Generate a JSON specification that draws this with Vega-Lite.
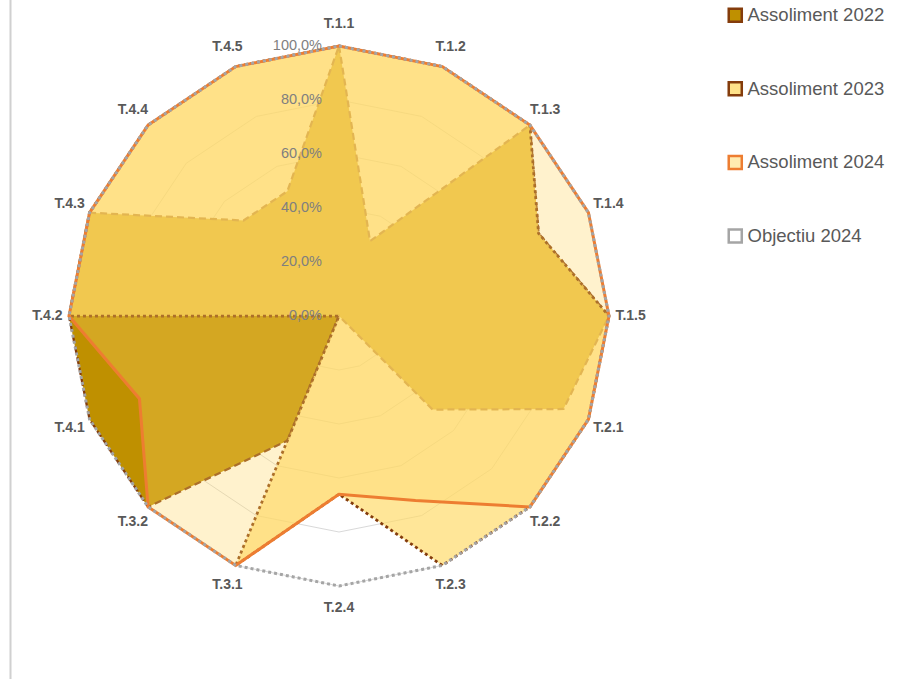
{
  "$schema": "https://vega.github.io/schema/vega-lite/v6.json",
  "width": 900,
  "height": 679,
  "autosize": {"type": "none"},
  "padding": 0,
  "background": "white",
  "config": {"view": {"stroke": null}, "locale": {"number": {"decimal": ",", "thousands": ".", "grouping": [3], "currency": ["", " €"]}}},
  "datasets": {
    "series": [
      {"s": "Assoliment 2022", "k": 0, "v": 1}, {"s": "Assoliment 2022", "k": 1, "v": 0.30}, {"s": "Assoliment 2022", "k": 2, "v": 1}, {"s": "Assoliment 2022", "k": 3, "v": 0.80},
      {"s": "Assoliment 2022", "k": 4, "v": 1}, {"s": "Assoliment 2022", "k": 5, "v": 0.90}, {"s": "Assoliment 2022", "k": 6, "v": 0.49}, {"s": "Assoliment 2022", "k": 7, "v": 0},
      {"s": "Assoliment 2022", "k": 8, "v": 0}, {"s": "Assoliment 2022", "k": 9, "v": 0.50}, {"s": "Assoliment 2022", "k": 10, "v": 1}, {"s": "Assoliment 2022", "k": 11, "v": 1},
      {"s": "Assoliment 2022", "k": 12, "v": 1}, {"s": "Assoliment 2022", "k": 13, "v": 1}, {"s": "Assoliment 2022", "k": 14, "v": 0.50}, {"s": "Assoliment 2022", "k": 15, "v": 0.50},
      {"s": "Assoliment 2023", "k": 0, "v": 1}, {"s": "Assoliment 2023", "k": 1, "v": 1}, {"s": "Assoliment 2023", "k": 2, "v": 1}, {"s": "Assoliment 2023", "k": 3, "v": 0.80},
      {"s": "Assoliment 2023", "k": 4, "v": 1}, {"s": "Assoliment 2023", "k": 5, "v": 1}, {"s": "Assoliment 2023", "k": 6, "v": 1}, {"s": "Assoliment 2023", "k": 7, "v": 1},
      {"s": "Assoliment 2023", "k": 8, "v": 0.66}, {"s": "Assoliment 2023", "k": 9, "v": 1}, {"s": "Assoliment 2023", "k": 10, "v": 0}, {"s": "Assoliment 2023", "k": 11, "v": 0},
      {"s": "Assoliment 2023", "k": 12, "v": 1}, {"s": "Assoliment 2023", "k": 13, "v": 1}, {"s": "Assoliment 2023", "k": 14, "v": 1}, {"s": "Assoliment 2023", "k": 15, "v": 1},
      {"s": "Assoliment 2024", "k": 0, "v": 1}, {"s": "Assoliment 2024", "k": 1, "v": 1}, {"s": "Assoliment 2024", "k": 2, "v": 1}, {"s": "Assoliment 2024", "k": 3, "v": 1},
      {"s": "Assoliment 2024", "k": 4, "v": 1}, {"s": "Assoliment 2024", "k": 5, "v": 1}, {"s": "Assoliment 2024", "k": 6, "v": 1}, {"s": "Assoliment 2024", "k": 7, "v": 0.74},
      {"s": "Assoliment 2024", "k": 8, "v": 0.66}, {"s": "Assoliment 2024", "k": 9, "v": 1}, {"s": "Assoliment 2024", "k": 10, "v": 1}, {"s": "Assoliment 2024", "k": 11, "v": 0.80},
      {"s": "Assoliment 2024", "k": 12, "v": 1}, {"s": "Assoliment 2024", "k": 13, "v": 1}, {"s": "Assoliment 2024", "k": 14, "v": 1}, {"s": "Assoliment 2024", "k": 15, "v": 1},
      {"s": "Objectiu 2024", "k": 0, "v": 1}, {"s": "Objectiu 2024", "k": 1, "v": 1}, {"s": "Objectiu 2024", "k": 2, "v": 1}, {"s": "Objectiu 2024", "k": 3, "v": 1},
      {"s": "Objectiu 2024", "k": 4, "v": 1}, {"s": "Objectiu 2024", "k": 5, "v": 1}, {"s": "Objectiu 2024", "k": 6, "v": 1}, {"s": "Objectiu 2024", "k": 7, "v": 1},
      {"s": "Objectiu 2024", "k": 8, "v": 1}, {"s": "Objectiu 2024", "k": 9, "v": 1}, {"s": "Objectiu 2024", "k": 10, "v": 1}, {"s": "Objectiu 2024", "k": 11, "v": 1},
      {"s": "Objectiu 2024", "k": 12, "v": 1}, {"s": "Objectiu 2024", "k": 13, "v": 1}, {"s": "Objectiu 2024", "k": 14, "v": 1}, {"s": "Objectiu 2024", "k": 15, "v": 1}
    ],
    "spokes": [
      {"k": 0, "label": "T.1.1"}, {"k": 1, "label": "T.1.2"}, {"k": 2, "label": "T.1.3"}, {"k": 3, "label": "T.1.4"},
      {"k": 4, "label": "T.1.5"}, {"k": 5, "label": "T.2.1"}, {"k": 6, "label": "T.2.2"}, {"k": 7, "label": "T.2.3"},
      {"k": 8, "label": "T.2.4"}, {"k": 9, "label": "T.3.1"}, {"k": 10, "label": "T.3.2"}, {"k": 11, "label": "T.4.1"},
      {"k": 12, "label": "T.4.2"}, {"k": 13, "label": "T.4.3"}, {"k": 14, "label": "T.4.4"}, {"k": 15, "label": "T.4.5"}
    ],
    "ticks": [{"t": 0}, {"t": 0.2}, {"t": 0.4}, {"t": 0.6}, {"t": 0.8}, {"t": 1}],
    "rings": [
      {"level": 0.2, "ks": [0,1,2,3,4,5,6,7,8,9,10,11,12,13,14,15]},
      {"level": 0.4, "ks": [0,1,2,3,4,5,6,7,8,9,10,11,12,13,14,15]},
      {"level": 0.6, "ks": [0,1,2,3,4,5,6,7,8,9,10,11,12,13,14,15]},
      {"level": 0.8, "ks": [0,1,2,3,4,5,6,7,8,9,10,11,12,13,14,15]},
      {"level": 1.0, "ks": [0,1,2,3,4,5,6,7,8,9,10,11,12,13,14,15]}
    ]
  },
  "layer": [
    {
      "data": {"name": "spokes"},
      "transform": [{"filter": "datum.k === 0"}, {"calculate": "-1.21667", "as": "bx"}],
      "mark": {"type": "rule", "stroke": "#D0D0D0", "strokeWidth": 2},
      "encoding": {
        "x": {"field": "bx", "type": "quantitative", "scale": {"domain": [-1.25556, 2.07778], "nice": false, "zero": false}, "axis": null}
      }
    },
    {
      "data": {"name": "rings"},
      "transform": [
        {"flatten": ["ks"], "as": ["k"]},
        {"calculate": "datum.k*PI/8", "as": "a"},
        {"calculate": "datum.level*sin(datum.a)", "as": "px"},
        {"calculate": "datum.level*cos(datum.a)", "as": "py"}
      ],
      "mark": {"type": "line", "interpolate": "linear-closed", "stroke": "#D9D9D9", "strokeWidth": 1},
      "encoding": {
        "x": {"field": "px", "type": "quantitative", "scale": {"domain": [-1.25556, 2.07778], "nice": false, "zero": false}, "axis": null},
        "y": {"field": "py", "type": "quantitative", "scale": {"domain": [-1.34444, 1.17037], "nice": false, "zero": false}, "axis": null},
        "detail": {"field": "level", "type": "nominal"},
        "order": {"field": "k", "type": "quantitative"}
      }
    },
    {
      "data": {"name": "series"},
      "transform": [
        {"filter": "datum.s === 'Assoliment 2022'"},
        {"calculate": "datum.k*PI/8", "as": "a"},
        {"calculate": "datum.v*sin(datum.a)", "as": "px"},
        {"calculate": "datum.v*cos(datum.a)", "as": "py"}
      ],
      "mark": {"type": "line", "interpolate": "linear-closed", "strokeWidth": 2.25, "fillOpacity": 1, "strokeDash": [7, 4]},
      "encoding": {
        "x": {"field": "px", "type": "quantitative", "scale": {"domain": [-1.25556, 2.07778], "nice": false, "zero": false}, "axis": null},
        "y": {"field": "py", "type": "quantitative", "scale": {"domain": [-1.34444, 1.17037], "nice": false, "zero": false}, "axis": null},
        "order": {"field": "k", "type": "quantitative"},
        "stroke": {"field": "s", "type": "nominal", "scale": {"domain": ["Assoliment 2022", "Assoliment 2023", "Assoliment 2024", "Objectiu 2024"], "range": ["#843C0C", "#843C0C", "#ED7D31", "#A5A5A5"]},
                   "legend": {"orient": "none", "legendX": 726, "legendY": 6, "title": null, "symbolType": "square", "symbolSize": 170, "symbolStrokeWidth": 2.5, "labelFontSize": 18.5, "labelFont": "Liberation Sans", "labelColor": "#595959", "rowPadding": 49.6, "labelOffset": 3}},
        "fill": {"field": "s", "type": "nominal", "scale": {"domain": ["Assoliment 2022", "Assoliment 2023", "Assoliment 2024", "Objectiu 2024"], "range": ["#BF9000", "#FFE289", "#FFEBB0", "#FFFFFF"]}}
      }
    },
    {
      "data": {"name": "series"},
      "transform": [
        {"filter": "datum.s === 'Assoliment 2023'"},
        {"calculate": "datum.k*PI/8", "as": "a"},
        {"calculate": "datum.v*sin(datum.a)", "as": "px"},
        {"calculate": "datum.v*cos(datum.a)", "as": "py"}
      ],
      "mark": {"type": "line", "interpolate": "linear-closed", "strokeWidth": 2.75, "fillOpacity": 0.67, "strokeDash": [3, 3]},
      "encoding": {
        "x": {"field": "px", "type": "quantitative", "scale": {"domain": [-1.25556, 2.07778], "nice": false, "zero": false}, "axis": null},
        "y": {"field": "py", "type": "quantitative", "scale": {"domain": [-1.34444, 1.17037], "nice": false, "zero": false}, "axis": null},
        "order": {"field": "k", "type": "quantitative"},
        "stroke": {"field": "s", "type": "nominal", "scale": {"domain": ["Assoliment 2022", "Assoliment 2023", "Assoliment 2024", "Objectiu 2024"], "range": ["#843C0C", "#843C0C", "#ED7D31", "#A5A5A5"]}},
        "fill": {"value": "#FFD966"}
      }
    },
    {
      "data": {"name": "series"},
      "transform": [
        {"filter": "datum.s === 'Assoliment 2024'"},
        {"calculate": "datum.k*PI/8", "as": "a"},
        {"calculate": "datum.v*sin(datum.a)", "as": "px"},
        {"calculate": "datum.v*cos(datum.a)", "as": "py"}
      ],
      "mark": {"type": "line", "interpolate": "linear-closed", "strokeWidth": 3, "fillOpacity": 0.33},
      "encoding": {
        "x": {"field": "px", "type": "quantitative", "scale": {"domain": [-1.25556, 2.07778], "nice": false, "zero": false}, "axis": null},
        "y": {"field": "py", "type": "quantitative", "scale": {"domain": [-1.34444, 1.17037], "nice": false, "zero": false}, "axis": null},
        "order": {"field": "k", "type": "quantitative"},
        "stroke": {"field": "s", "type": "nominal", "scale": {"domain": ["Assoliment 2022", "Assoliment 2023", "Assoliment 2024", "Objectiu 2024"], "range": ["#843C0C", "#843C0C", "#ED7D31", "#A5A5A5"]}},
        "fill": {"value": "#FFD966"}
      }
    },
    {
      "data": {"name": "series"},
      "transform": [
        {"filter": "datum.s === 'Objectiu 2024'"},
        {"calculate": "datum.k*PI/8", "as": "a"},
        {"calculate": "datum.v*sin(datum.a)", "as": "px"},
        {"calculate": "datum.v*cos(datum.a)", "as": "py"}
      ],
      "mark": {"type": "line", "interpolate": "linear-closed", "strokeWidth": 3, "strokeDash": [3, 3]},
      "encoding": {
        "x": {"field": "px", "type": "quantitative", "scale": {"domain": [-1.25556, 2.07778], "nice": false, "zero": false}, "axis": null},
        "y": {"field": "py", "type": "quantitative", "scale": {"domain": [-1.34444, 1.17037], "nice": false, "zero": false}, "axis": null},
        "order": {"field": "k", "type": "quantitative"},
        "stroke": {"field": "s", "type": "nominal", "scale": {"domain": ["Assoliment 2022", "Assoliment 2023", "Assoliment 2024", "Objectiu 2024"], "range": ["#843C0C", "#843C0C", "#ED7D31", "#A5A5A5"]}}
      }
    },
    {
      "data": {"name": "ticks"},
      "transform": [
        {"calculate": "datum.t*sin(0)", "as": "px"},
        {"calculate": "datum.t*cos(0)", "as": "py"}
      ],
      "mark": {"type": "text", "font": "Liberation Sans", "fontSize": 14.5, "color": "#7F7F7F", "align": "right", "baseline": "middle", "dx": -17},
      "encoding": {
        "x": {"field": "px", "type": "quantitative", "scale": {"domain": [-1.25556, 2.07778], "nice": false, "zero": false}, "axis": null},
        "y": {"field": "py", "type": "quantitative", "scale": {"domain": [-1.34444, 1.17037], "nice": false, "zero": false}, "axis": null},
        "text": {"field": "t", "type": "quantitative", "format": ".1%"}
      }
    },
    {
      "data": {"name": "spokes"},
      "transform": [
        {"calculate": "datum.k*PI/8", "as": "a"},
        {"calculate": "1.08*sin(datum.a)", "as": "px"},
        {"calculate": "1.08*cos(datum.a)", "as": "py"}
      ],
      "mark": {"type": "text", "font": "Liberation Sans", "fontSize": 14, "fontWeight": "bold", "color": "#595959", "align": "center", "baseline": "middle"},
      "encoding": {
        "x": {"field": "px", "type": "quantitative", "scale": {"domain": [-1.25556, 2.07778], "nice": false, "zero": false}, "axis": null},
        "y": {"field": "py", "type": "quantitative", "scale": {"domain": [-1.34444, 1.17037], "nice": false, "zero": false}, "axis": null},
        "text": {"field": "label", "type": "nominal"}
      }
    }
  ]
}
